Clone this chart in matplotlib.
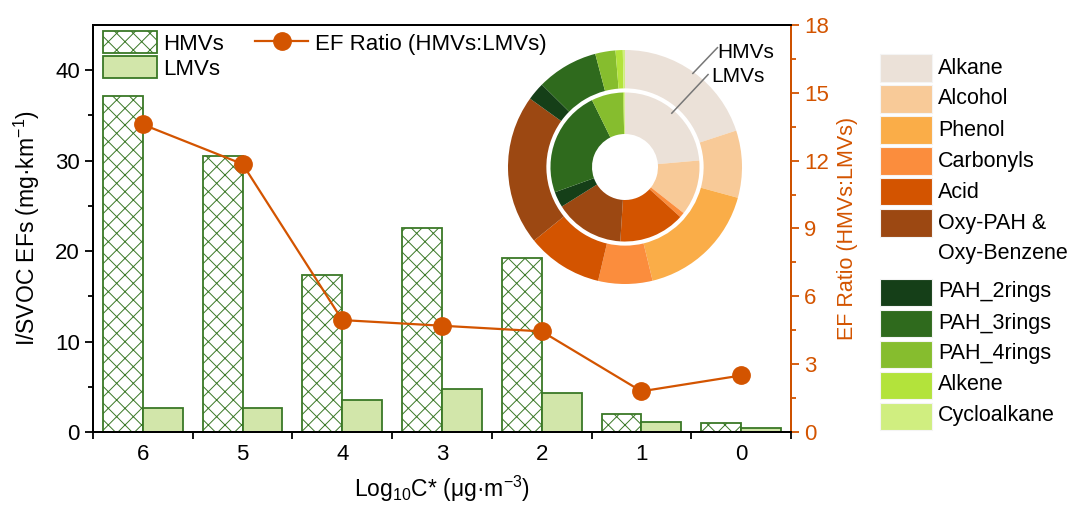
import numpy as np
import matplotlib
matplotlib.use('Agg')
import matplotlib.pyplot as plt
from matplotlib.patches import Patch, Rectangle
from matplotlib.lines import Line2D

plt.rcParams['font.family'] = ['Liberation Sans', 'DejaVu Sans']
plt.rcParams['mathtext.fontset'] = 'custom'
plt.rcParams['mathtext.rm'] = 'Liberation Sans'
plt.rcParams['mathtext.it'] = 'Liberation Sans:italic'
plt.rcParams['hatch.linewidth'] = 0.7

# data
log_c = ['6', '5', '4', '3', '2', '1', '0']
hmv_ef = [37.2, 30.5, 17.4, 22.6, 19.2, 2.0, 1.0]
lmv_ef = [2.7, 2.6, 3.5, 4.8, 4.3, 1.1, 0.4]
ef_ratio = [13.6, 11.85, 4.95, 4.7, 4.45, 1.8, 2.5]

groups = ['Alkane', 'Alcohol', 'Phenol', 'Carbonyls', 'Acid',
          'Oxy-PAH &\nOxy-Benzene', 'PAH_2rings', 'PAH_3rings',
          'PAH_4rings', 'Alkene', 'Cycloalkane']
hmv_share = [20.0, 9.3, 17.0, 7.5, 10.5, 20.8, 2.5, 8.5, 2.8, 1.0, 0.3]
lmv_share = [23.6, 12.0, 0.0, 1.1, 14.3, 15.1, 3.4, 23.2, 6.9, 0.25, 0.15]
group_colors = ['#EBE1D8', '#F8CA98', '#FAAD48', '#FB8D3D', '#D35400',
                '#9C4812', '#153F18', '#2F6A1D', '#86BD2E', '#B3E33B', '#D0EE80']

green = '#3A7826'
light_green = '#D2E6AA'
orange = '#D35400'

W, H = 1080, 505
fig = plt.figure(figsize=(W / 100, H / 100), dpi=100)
ax = fig.add_axes([93 / W, 1 - 432 / H, (791 - 93) / W, (432 - 25) / H])

x = np.arange(len(log_c))
bw = 0.4
ax.bar(x - bw / 2, hmv_ef, bw, facecolor='white', edgecolor=green,
       hatch='xx', linewidth=1.3, label='HMVs')
ax.bar(x + bw / 2, lmv_ef, bw, facecolor=light_green, edgecolor=green,
       linewidth=1.3, label='LMVs')

ax.set_xlim(-0.5, len(log_c) - 0.5)
ax.set_ylim(0, 45)
ax.set_xticks(x)
ax.set_xticklabels(log_c)
ax.set_xticks(np.arange(-0.5, len(log_c)), minor=True)
ax.tick_params(axis='x', which='major', length=0, labelsize=16, pad=9)
ax.tick_params(axis='x', which='minor', length=5, width=1.3, direction='out')
ax.set_yticks([0, 10, 20, 30, 40])
ax.set_yticks(np.arange(5, 45, 10), minor=True)
ax.tick_params(axis='y', which='major', length=6, width=1.3, labelsize=16)
ax.tick_params(axis='y', which='minor', length=3.5, width=1.3)
for s in ax.spines.values():
    s.set_linewidth(1.4)
ax.set_ylabel('I/SVOC EFs (mg·km$^{-1}$)', fontsize=16.5, labelpad=9)
ax.set_xlabel('Log$_{10}$C* (μg·m$^{-3}$)', fontsize=16.5, labelpad=6)

ax2 = ax.twinx()
ax2.plot(x, ef_ratio, color=orange, lw=1.6, marker='o', markersize=12.5,
         label='EF Ratio (HMVs:LMVs)')
ax2.set_ylim(0, 18)
ax2.set_yticks(np.arange(0, 19, 3))
ax2.set_yticks(np.arange(1.5, 18, 3), minor=True)
ax2.tick_params(axis='y', which='major', colors=orange, length=6, width=1.3,
                labelsize=16)
ax2.tick_params(axis='y', which='minor', colors=orange, length=3.5, width=1.3)
ax2.spines['right'].set_color(orange)
for s in ax2.spines.values():
    s.set_linewidth(1.4)
ax2.set_ylabel('EF Ratio (HMVs:LMVs)', color=orange, fontsize=15.5, labelpad=6)

handles = [Patch(facecolor='white', edgecolor=green, hatch='xx', lw=1.3),
           Patch(facecolor=light_green, edgecolor=green, lw=1.3),
           Line2D([], [], color=orange, lw=1.6, marker='o', markersize=12.5)]
ax2.legend(handles, ['HMVs', 'LMVs', 'EF Ratio (HMVs:LMVs)'], ncol=2,
           loc='upper left', bbox_to_anchor=(-0.006, 1.02), frameon=False,
           fontsize=16, handlelength=2.4, handleheight=1.15,
           labelspacing=0.05, columnspacing=1.4, handletextpad=0.3,
           borderaxespad=0.25)

# donut inset
cx, cy, R = 625, 167, 117
pax = fig.add_axes([(cx - R) / W, 1 - (cy + R) / H, 2 * R / W, 2 * R / H])
pax.pie(hmv_share, radius=1.0, colors=group_colors, startangle=90,
        counterclock=False, wedgeprops=dict(width=0.328, linewidth=0))
pax.pie(lmv_share, radius=0.637, colors=group_colors, startangle=90,
        counterclock=False, wedgeprops=dict(width=0.355, linewidth=0))
pax.set_xlim(-1, 1)
pax.set_ylim(-1, 1)
pax.set_aspect('equal')
pax.axis('off')
pax.plot([0.58, 0.79], [0.80, 1.02], color='#777777', lw=1.1, clip_on=False)
pax.plot([0.40, 0.71], [0.46, 0.79], color='#777777', lw=1.1, clip_on=False)
pax.text(0.79, 0.98, 'HMVs', fontsize=15, va='center', ha='left')
pax.text(0.735, 0.77, 'LMVs', fontsize=15, va='center', ha='left')

# category legend on the right
y_pos = 68
for name, col in zip(groups, group_colors):
    fig.patches.append(Rectangle((880 / W, 1 - (y_pos + 13.5) / H), 52 / W,
                                 27 / H, transform=fig.transFigure,
                                 facecolor=col, edgecolor='#f4f4f4', lw=0.8))
    fig.text(938 / W, 1 - y_pos / H, name.split('\n')[0], fontsize=15.5,
             va='center', ha='left')
    if '\n' in name:
        fig.text(938 / W, 1 - (y_pos + 31) / H, name.split('\n')[1],
                 fontsize=15.5, va='center', ha='left')
        y_pos += 38
    y_pos += 31

fig.savefig('out.png', dpi=100)
